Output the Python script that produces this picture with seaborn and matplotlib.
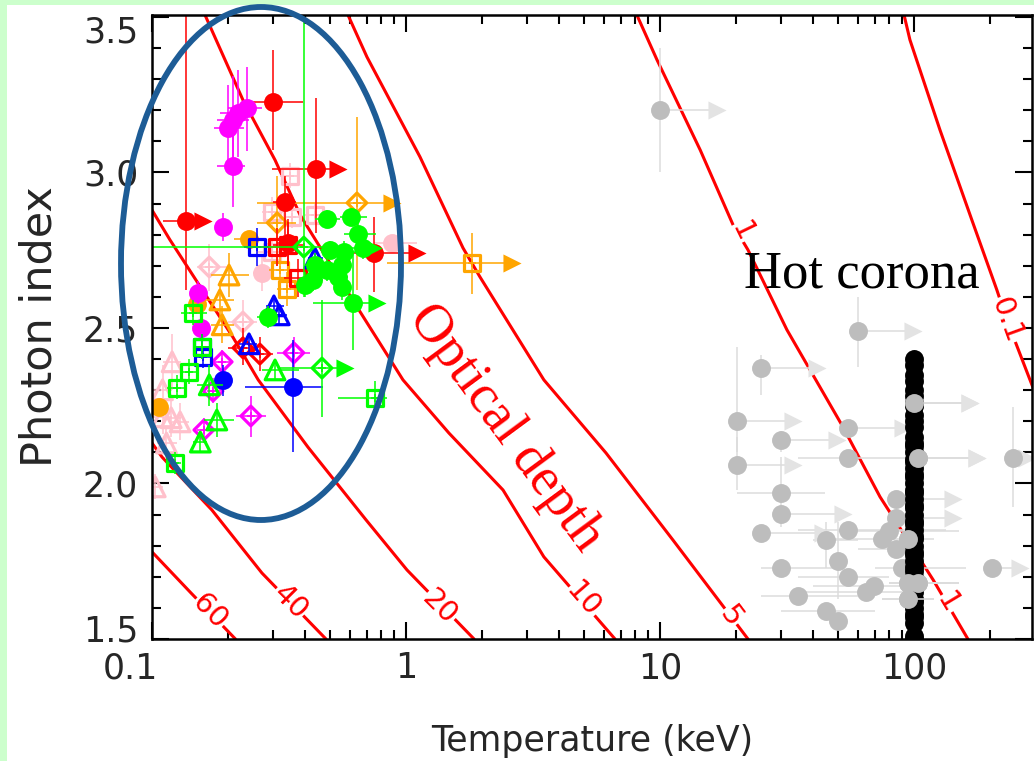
import numpy as np
import pandas as pd
import matplotlib
matplotlib.use("Agg")
import matplotlib.pyplot as plt
import matplotlib.transforms as mtransforms
from matplotlib.patches import Ellipse, Rectangle
from matplotlib.ticker import FixedLocator, FixedFormatter, NullFormatter, MultipleLocator, LogLocator
import seaborn as sns

sns.set_style("ticks")
plt.rcParams["font.family"] = ["DejaVu Sans"]

# ---------------------------------------------------------------
# Soft-excess (warm corona) sources.
# Each row: kT, Gamma, kT_lo, kT_hi, Gamma_lo, Gamma_hi, kT lower-limit arrow end
# ---------------------------------------------------------------
red_circles = [
    (0.299, 3.227, 0.243, 0.393, 3.072, 3.394, None),
    (0.442, 3.011, 0.296, 0.442, 2.805, 3.240, 0.541),
    (0.136, 2.844, 0.110, 0.136, 2.622, 3.520, 0.159),
    (0.334, 2.905, 0.300, 0.370, 2.800, 2.990, None),
    (0.748, 2.741, 0.515, 0.748, 2.616, 2.857, 1.105),
    (0.343, 2.773, 0.310, 0.380, 2.700, 2.850, None),
]
red_squares = [
    (0.343, 2.767, 0.300, 0.400, 2.700, 2.840, None),
    (0.376, 2.661, 0.330, 0.420, 2.600, 2.720, None),
    (0.310, 2.760, 0.280, 0.350, 2.700, 2.820, None),
]
red_diamonds = [
    (0.266, 2.416, 0.240, 0.300, 2.360, 2.470, None),
    (0.228, 2.436, 0.200, 0.250, 2.380, 2.500, None),
]
magenta_circles = [
    (0.237, 3.207, 0.200, 0.270, 3.070, 3.340, None),
    (0.218, 3.191, 0.185, 0.255, 3.050, 3.330, None),
    (0.208, 3.169, 0.180, 0.240, 3.030, 3.310, None),
    (0.199, 3.143, 0.175, 0.230, 3.000, 3.280, None),
    (0.208, 3.021, 0.180, 0.232, 2.889, 3.127, None),
    (0.190, 2.825, 0.180, 0.200, 2.780, 2.870, None),
    (0.152, 2.613, 0.145, 0.160, 2.570, 2.650, None),
    (0.156, 2.500, 0.148, 0.165, 2.460, 2.540, None),
]
magenta_diamonds = [
    (0.189, 2.391, 0.175, 0.205, 2.350, 2.430, None),
    (0.174, 2.297, 0.165, 0.185, 2.260, 2.340, None),
    (0.160, 2.172, 0.150, 0.175, 2.130, 2.210, None),
    (0.245, 2.217, 0.215, 0.280, 2.150, 2.280, None),
    (0.362, 2.420, 0.310, 0.420, 2.370, 2.470, None),
]
pink_circles = [
    (0.271, 2.677, 0.250, 0.290, 2.620, 2.730, None),
    (0.881, 2.773, 0.750, 1.100, 2.740, 2.800, None),
]
pink_squares = [
    (0.349, 2.989, 0.320, 0.380, 2.950, 3.030, None),
    (0.297, 2.873, 0.270, 0.330, 2.820, 2.920, None),
    (0.356, 2.857, 0.330, 0.390, 2.820, 2.900, None),
    (0.438, 2.863, 0.400, 0.480, 2.830, 2.900, None),
    (0.297, 2.744, 0.260, 0.330, 2.700, 2.790, None),
]
pink_diamonds = [
    (0.168, 2.696, 0.150, 0.200, 2.620, 2.770, None),
    (0.228, 2.519, 0.200, 0.260, 2.450, 2.590, None),
]
pink_triangles = [
    (0.120, 2.391, 0.110, 0.130, 2.300, 2.480, None),
    (0.110, 2.301, 0.100, 0.120, 2.220, 2.380, None),
    (0.119, 2.211, 0.110, 0.130, 2.150, 2.270, None),
    (0.129, 2.198, 0.120, 0.140, 2.140, 2.260, None),
    (0.110, 2.214, 0.100, 0.120, 2.160, 2.270, None),
    (0.114, 2.130, 0.105, 0.125, 2.080, 2.180, None),
    (0.103, 1.989, 0.100, 0.110, 1.950, 2.030, None),
]
orange_circles = [
    (0.241, 2.786, 0.210, 0.260, 2.760, 2.810, None),
    (0.150, 2.577, 0.140, 0.160, 2.550, 2.610, None),
    (0.107, 2.246, 0.100, 0.115, 2.220, 2.270, None),
]
orange_diamonds = [
    (0.641, 2.902, 0.259, 0.641, 2.622, 3.178, 0.881),
    (0.311, 2.838, 0.260, 0.370, 2.700, 2.990, None),
]
orange_triangles = [
    (0.201, 2.670, 0.170, 0.240, 2.600, 2.740, None),
    (0.185, 2.590, 0.160, 0.210, 2.530, 2.650, None),
    (0.189, 2.510, 0.170, 0.210, 2.450, 2.570, None),
]
orange_squares = [
    (0.319, 2.687, 0.290, 0.360, 2.630, 2.740, None),
    (0.340, 2.625, 0.310, 0.380, 2.570, 2.680, None),
    (1.820, 2.709, 0.840, 1.820, 2.610, 2.805, 2.610),
]
green_circles = [
    (0.489, 2.850, 0.440, 0.550, 2.820, 2.880, None),
    (0.607, 2.857, 0.550, 0.700, 2.830, 2.880, None),
    (0.647, 2.802, 0.570, 0.760, 2.760, 2.840, None),
    (0.502, 2.751, 0.460, 0.550, 2.720, 2.780, None),
    (0.570, 2.744, 0.520, 0.630, 2.710, 2.780, None),
    (0.677, 2.757, 0.600, 0.677, 2.720, 2.790, 0.740),
    (0.438, 2.703, 0.400, 0.480, 2.670, 2.740, None),
    (0.489, 2.687, 0.450, 0.530, 2.650, 2.720, None),
    (0.560, 2.703, 0.520, 0.610, 2.670, 2.740, None),
    (0.540, 2.664, 0.500, 0.590, 2.620, 2.700, None),
    (0.430, 2.654, 0.400, 0.470, 2.620, 2.690, None),
    (0.400, 2.638, 0.370, 0.440, 2.600, 2.680, None),
    (0.560, 2.632, 0.520, 0.610, 2.590, 2.670, None),
    (0.618, 2.580, 0.430, 0.618, 2.429, 2.741, 0.769),
    (0.286, 2.535, 0.260, 0.310, 2.500, 2.570, None),
]
green_diamonds = [
    (0.396, 2.760, 0.100, 0.600, 2.600, 3.520, None),
    (0.467, 2.371, 0.319, 0.467, 2.214, 2.590, 0.575),
]
green_squares = [
    (0.145, 2.548, 0.130, 0.165, 2.510, 2.590, None),
    (0.157, 2.439, 0.145, 0.170, 2.400, 2.480, None),
    (0.140, 2.359, 0.130, 0.150, 2.320, 2.400, None),
    (0.125, 2.307, 0.115, 0.135, 2.270, 2.350, None),
    (0.123, 2.066, 0.115, 0.130, 2.030, 2.100, None),
    (0.755, 2.275, 0.540, 0.840, 2.210, 2.330, None),
]
green_triangles = [
    (0.305, 2.365, 0.270, 0.380, 2.330, 2.400, None),
    (0.168, 2.317, 0.150, 0.190, 2.250, 2.380, None),
    (0.180, 2.204, 0.160, 0.210, 2.150, 2.260, None),
    (0.155, 2.133, 0.145, 0.165, 2.100, 2.170, None),
]
blue_circles = [
    (0.190, 2.333, 0.180, 0.200, 2.280, 2.380, None),
    (0.359, 2.310, 0.232, 0.470, 2.101, 2.461, None),
]
blue_triangles = [
    (0.302, 2.571, 0.280, 0.330, 2.540, 2.600, None),
    (0.317, 2.542, 0.300, 0.340, 2.510, 2.570, None),
    (0.241, 2.449, 0.220, 0.260, 2.420, 2.480, None),
    (0.438, 2.725, 0.410, 0.470, 2.700, 2.750, None),
]
blue_squares = [
    (0.259, 2.760, 0.230, 0.290, 2.700, 2.820, None),
    (0.157, 2.439, 0.145, 0.170, 2.400, 2.480, None),
    (0.159, 2.407, 0.150, 0.170, 2.370, 2.440, None),
]

# Hot-corona sources (grey) and the fixed-temperature sample at 100 keV (black)
grey_sources = [
    (10.0, 3.201, 10.0, 10.0, 3.000, 3.400, 16.8),
    (60.2, 2.490, 60.2, 60.2, 2.375, 2.600, 99.0),
    (25.0, 2.371, 25.0, 25.0, 2.285, 2.413, 41.5),
    (20.1, 2.201, 20.1, 20.1, 2.100, 2.440, 33.5),
    (29.9, 2.140, 29.9, 29.9, 2.100, 2.170, 49.8),
    (20.1, 2.059, 20.1, 20.1, 1.980, 2.150, 33.5),
    (55.0, 2.178, 55.0, 55.0, 2.178, 2.178, 90.6),
    (55.0, 2.082, 34.9, 95.0, 2.082, 2.082, None),
    (103.7, 2.082, 103.7, 103.7, 2.082, 2.082, 177.0),
    (100.0, 2.259, 100.0, 100.0, 2.259, 2.259, 166.0),
    (245.0, 2.082, 245.0, 245.0, 1.924, 2.246, 279.0),
    (29.9, 1.969, 20.1, 44.7, 1.860, 2.085, None),
    (29.9, 1.902, 29.9, 29.9, 1.902, 1.902, 52.5),
    (25.0, 1.841, 25.0, 25.0, 1.841, 1.841, 43.8),
    (55.0, 1.850, 34.9, 134.0, 1.850, 1.850, None),
    (45.0, 1.818, 40.0, 60.0, 1.728, 1.876, None),
    (85.0, 1.950, 85.0, 85.0, 1.950, 1.950, 143.0),
    (85.0, 1.889, 85.0, 85.0, 1.889, 1.889, 143.0),
    (79.8, 1.847, 50.0, 150.0, 1.847, 1.847, None),
    (74.8, 1.822, 45.0, 120.0, 1.822, 1.822, None),
    (85.0, 1.789, 60.0, 110.0, 1.789, 1.789, None),
    (94.6, 1.822, 94.6, 94.6, 1.822, 1.822, None),
    (29.9, 1.728, 25.0, 52.5, 1.728, 1.728, None),
    (50.2, 1.751, 50.2, 50.2, 1.627, 1.876, None),
    (55.0, 1.699, 35.0, 80.0, 1.699, 1.699, None),
    (69.6, 1.670, 40.0, 110.0, 1.670, 1.670, None),
    (64.7, 1.651, 35.0, 100.0, 1.651, 1.651, None),
    (34.9, 1.638, 25.0, 60.0, 1.638, 1.638, None),
    (89.7, 1.728, 70.0, 160.0, 1.728, 1.728, None),
    (94.6, 1.680, 80.0, 140.0, 1.680, 1.680, None),
    (103.7, 1.680, 90.0, 150.0, 1.680, 1.680, None),
    (94.6, 1.629, 75.0, 120.0, 1.629, 1.629, None),
    (45.0, 1.590, 30.0, 70.0, 1.590, 1.590, None),
    (50.2, 1.558, 50.2, 50.2, 1.558, 1.558, None),
    (203.0, 1.728, 203.0, 203.0, 1.728, 1.728, 261.0),
]
fixed_kT = 100.0
fixed_gamma = [2.40, 2.38, 2.35, 2.33, 2.30, 2.28, 2.26, 2.25, 2.22, 2.20, 2.18,
               2.15, 2.13, 2.12, 2.10, 2.08, 2.07, 2.05, 2.03, 2.02, 2.00, 1.98,
               1.97, 1.95, 1.93, 1.92, 1.90, 1.88, 1.87, 1.85, 1.83, 1.82, 1.80,
               1.78, 1.77, 1.75, 1.73, 1.72, 1.70, 1.68, 1.67, 1.65, 1.63, 1.62,
               1.60, 1.58, 1.57, 1.55, 1.51, 1.50]

# Optical-depth contours (kT in keV, photon index)
tau_60_kT = [0.100, 0.1424, 0.213]
tau_60_G = [1.780, 1.648, 1.500]
tau_40_kT = [0.100, 0.1095, 0.172, 0.271, 0.484]
tau_40_G = [2.130, 2.085, 1.915, 1.712, 1.500]
tau_20_kT = [0.100, 0.1177, 0.208, 0.262, 0.411, 0.696, 1.009, 1.853]
tau_20_G = [2.879, 2.783, 2.471, 2.333, 2.117, 1.883, 1.722, 1.500]
tau_10_kT = [0.1617, 0.228, 0.305, 0.383, 0.641, 0.973, 1.476, 2.41, 3.49, 6.65]
tau_10_G = [3.506, 3.233, 3.040, 2.863, 2.568, 2.333, 2.162, 1.979, 1.764, 1.500]
tau_5_kT = [0.591, 0.702, 1.135, 1.677, 1.955, 3.49, 6.13, 11.25, 22.2]
tau_5_G = [3.506, 3.371, 3.050, 2.757, 2.664, 2.333, 2.098, 1.818, 1.500]
tau_1_kT = [8.11, 9.73, 14.4, 19.4, 22.2, 31.6, 52.5, 73.5, 119.0, 163.0]
tau_1_G = [3.506, 3.362, 3.072, 2.831, 2.751, 2.494, 2.182, 1.957, 1.690, 1.500]
tau_01_kT = [91.4, 96.4, 126.5, 169.0, 212.0, 232.0, 300.0]
tau_01_G = [3.506, 3.426, 3.137, 2.847, 2.622, 2.526, 2.290]

tau_labels = ["60", "40", "20", "10", "5", "1", "1", "0.1"]
tau_label_kT = [0.169, 0.349, 1.36, 4.98, 18.9, 136.0, 21.0, 232.0]
tau_label_G = [1.587, 1.619, 1.603, 1.625, 1.571, 1.616, 2.809, 2.526]
tau_label_rot = [-46, -45, -45, -49, -53, -59, -64, -70]

x_ticks = [0.1, 1, 10, 100]
x_tick_labels = ["0.1", "1", "10", "100"]
y_ticks = [1.5, 2.0, 2.5, 3.0, 3.5]

COLS = ["kT", "G", "kT_lo", "kT_hi", "G_lo", "G_hi", "arrow"]

RED = "#ff0000"
MAGENTA = "#ff00ff"
PINK = "#ffc0cb"
ORANGE = "#ffa500"
GREEN = "#00ff00"
BLUE = "#0000ff"

W, H = 1034, 761
fig = plt.figure(figsize=(W / 100, H / 100), dpi=100)
fig.patch.set_facecolor("#ccffcc")
fig.add_artist(Rectangle((7 / W, 0), 1, (H - 5) / H, transform=fig.transFigure,
                         facecolor="white", edgecolor="none", zorder=0))

ax = fig.add_axes([152 / W, (H - 639) / H, 880 / W, 624 / H])
ax.set_facecolor("white")
ax.set_xscale("log")
ax.set_xlim(0.1, 291.5)
ax.set_ylim(1.5, 3.506)

CIRCLE_S, TRI_S, SQ_S, DIA_S, ARROW_S = 185, 200, 135, 100, 170


def draw_group(rows, color, marker, size, filled=True, err_color=None,
               arrow_color=None, z=5, plus=False, lw=2.3):
    df = pd.DataFrame(rows, columns=COLS).astype(float)
    ec = err_color or color
    ac = arrow_color or color
    ax.errorbar(df["kT"], df["G"],
                xerr=[df["kT"] - df["kT_lo"], df["kT_hi"] - df["kT"]],
                yerr=[df["G"] - df["G_lo"], df["G_hi"] - df["G"]],
                fmt="none", ecolor=ec, elinewidth=1.1, capsize=0, zorder=z)
    lim = df.dropna(subset=["arrow"])
    if len(lim):
        ax.hlines(lim["G"], lim["kT"], lim["arrow"], color=ec, lw=1.1, zorder=z)
        sns.scatterplot(data=lim, x="arrow", y="G", marker=">", color=ac, s=ARROW_S,
                        linewidth=0, ax=ax, legend=False, zorder=z + 0.1)
    if filled:
        sns.scatterplot(data=df, x="kT", y="G", marker=marker, color=color, s=size,
                        linewidth=0, ax=ax, legend=False, zorder=z + 0.2)
    else:
        sns.scatterplot(data=df, x="kT", y="G", marker=marker, color=color, s=size,
                        facecolor="none", edgecolor=color, linewidth=lw, ax=ax,
                        legend=False, zorder=z + 0.2)
        if plus:
            sns.scatterplot(data=df, x="kT", y="G", marker="+", color=color, s=40,
                            linewidth=1.1, ax=ax, legend=False, zorder=z + 0.3)


# optical-depth contours
for kts, gs in [(tau_60_kT, tau_60_G), (tau_40_kT, tau_40_G), (tau_20_kT, tau_20_G),
                (tau_10_kT, tau_10_G), (tau_5_kT, tau_5_G), (tau_1_kT, tau_1_G),
                (tau_01_kT, tau_01_G)]:
    sns.lineplot(x=kts, y=gs, color=RED, lw=2.2, sort=False, estimator=None,
                 ax=ax, zorder=2)
for txt, kt, g, rot in zip(tau_labels, tau_label_kT, tau_label_G, tau_label_rot):
    ax.text(kt, g, txt, color=RED, fontsize=21, rotation=rot, rotation_mode="anchor",
            ha="center", va="center", zorder=2.5,
            bbox=dict(facecolor="white", edgecolor="none", pad=0.5))

# hot-corona sample
draw_group(grey_sources, "#bdbdbd", "o", CIRCLE_S, err_color="#dcdcdc",
           arrow_color="#e3e3e3", z=3)
col = pd.DataFrame({"kT": [fixed_kT] * len(fixed_gamma), "G": fixed_gamma})
ax.vlines(col["kT"], col["G"] - 0.03, col["G"] + 0.03, color="black", lw=1, zorder=3.5)
sns.scatterplot(data=col, x="kT", y="G", marker="o", color="black", s=CIRCLE_S,
                linewidth=0, ax=ax, legend=False, zorder=3.6)
# grey points overlapping the black column are drawn above it
draw_group([r for r in grey_sources if 90 <= r[0] <= 110], "#bdbdbd", "o", CIRCLE_S,
           err_color="#dcdcdc", arrow_color="#e3e3e3", z=3.7)

# warm-corona sample
draw_group(pink_triangles, PINK, "^", TRI_S, filled=False, z=5)
draw_group(pink_squares, PINK, "s", SQ_S, filled=False, plus=True, z=5)
draw_group(pink_diamonds, PINK, "D", DIA_S, filled=False, plus=True, z=5)
draw_group(pink_circles, PINK, "o", CIRCLE_S, z=5)
draw_group(orange_triangles, ORANGE, "^", TRI_S, filled=False, z=6)
draw_group(orange_squares, ORANGE, "s", SQ_S, filled=False, plus=True, z=6)
draw_group(orange_diamonds, ORANGE, "D", DIA_S, filled=False, plus=True, z=6)
draw_group(orange_circles, ORANGE, "o", CIRCLE_S, z=6)
draw_group(red_squares, RED, "s", SQ_S, filled=False, z=7)
draw_group(red_diamonds, RED, "D", DIA_S, filled=False, plus=True, z=7)
draw_group(red_circles, RED, "o", CIRCLE_S, z=7)
draw_group(magenta_diamonds, MAGENTA, "D", DIA_S, filled=False, plus=True, z=8)
draw_group(magenta_circles, MAGENTA, "o", CIRCLE_S, z=8)
draw_group(blue_squares, BLUE, "s", SQ_S, filled=False, plus=True, z=9)
draw_group(blue_triangles, BLUE, "^", TRI_S, filled=False, z=9)
draw_group(blue_circles, BLUE, "o", CIRCLE_S, z=9)
draw_group(green_squares, GREEN, "s", SQ_S, filled=False, plus=True, z=10)
draw_group(green_triangles, GREEN, "^", TRI_S, filled=False, z=10)
draw_group(green_diamonds, GREEN, "D", DIA_S, filled=False, plus=True, z=10)
draw_group(green_circles, GREEN, "o", CIRCLE_S, z=10)

# annotations
serif = ["Liberation Serif", "DejaVu Serif"]
ax.text(2.45, 2.178, "Optical depth", color=RED, fontsize=39, family=serif,
        rotation=-53.6, rotation_mode="anchor", ha="center", va="center", zorder=20)
ax.text(62.4, 2.629, "Hot corona", color="black", fontsize=38, family=serif,
        ha="center", va="baseline", zorder=20)

# highlighted warm-corona region
fig.add_artist(Ellipse((261 / W, (H - 263.5) / H), 280 / W, 513 / H,
                       transform=fig.transFigure, fill=False,
                       edgecolor="#1d5c96", lw=4.2, zorder=30))

# axes styling
for sp in ax.spines.values():
    sp.set_linewidth(1.8)
    sp.set_color("black")
    sp.set_zorder(25)
ax.xaxis.set_major_locator(FixedLocator(x_ticks))
ax.xaxis.set_major_formatter(FixedFormatter(x_tick_labels))
ax.xaxis.set_minor_locator(LogLocator(base=10, subs=np.arange(2, 10)))
ax.xaxis.set_minor_formatter(NullFormatter())
ax.yaxis.set_major_locator(FixedLocator(y_ticks))
ax.yaxis.set_minor_locator(MultipleLocator(0.1))
ax.tick_params(which="both", direction="in", top=True, right=True, width=1.5,
               color="black", labelsize=25, zorder=25)
ax.tick_params(which="major", length=12)
ax.tick_params(which="minor", length=6.5)
ax.tick_params(axis="y", pad=10)
ax.tick_params(axis="x", pad=9)
ax.set_xlabel("Temperature (keV)", fontsize=25, labelpad=28)
ax.set_ylabel("Photon index", fontsize=31, labelpad=16)

# end tick labels are nudged inward so they do not collide at the corner
x_major = ax.xaxis.get_major_ticks()
y_major = ax.yaxis.get_major_ticks()
x_major[0].label1.set_transform(x_major[0].label1.get_transform() +
                                mtransforms.ScaledTranslation(-0.22, 0, fig.dpi_scale_trans))
y_major[0].label1.set_transform(y_major[0].label1.get_transform() +
                                mtransforms.ScaledTranslation(0, 0.11, fig.dpi_scale_trans))
y_major[-1].label1.set_transform(y_major[-1].label1.get_transform() +
                                 mtransforms.ScaledTranslation(0, -0.12, fig.dpi_scale_trans))

fig.savefig("out.png", dpi=100)
